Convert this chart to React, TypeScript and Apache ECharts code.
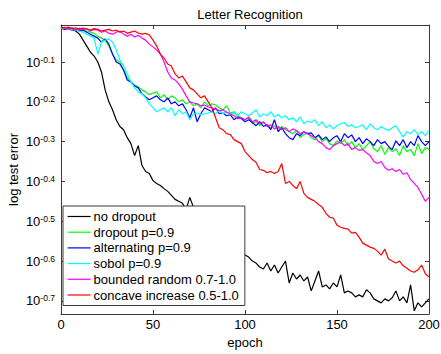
import React, { useEffect, useRef } from "react";
import * as echarts from "echarts";

// epochs sampled every 2 epochs (0..200)
const epochs: number[] = Array.from({ length: 101 }, (_, i) => i * 2);

// log10(test error)
const noDropout = [
  -0.012, -0.014, -0.013, -0.018, -0.022, -0.03, -0.045, -0.06, -0.075, -0.085,
  -0.1, -0.125, -0.17, -0.2, -0.22, -0.245, -0.262, -0.27, -0.29, -0.305,
  -0.335, -0.31, -0.36, -0.375, -0.38, -0.398, -0.405, -0.41, -0.418, -0.425,
  -0.435, -0.445, -0.45, -0.455, -0.47, -0.44, -0.465, -0.48, -0.49, -0.5,
  -0.505, -0.51, -0.52, -0.53, -0.535, -0.54, -0.55, -0.56, -0.565, -0.575,
  -0.585, -0.59, -0.6, -0.605, -0.615, -0.62, -0.605, -0.625, -0.61, -0.63,
  -0.615, -0.6, -0.655, -0.63, -0.645, -0.635, -0.65, -0.64, -0.675, -0.65,
  -0.625, -0.665, -0.66, -0.67, -0.655, -0.665, -0.635, -0.68, -0.675, -0.68,
  -0.69, -0.685, -0.69, -0.672, -0.68, -0.695, -0.7, -0.705, -0.695, -0.7,
  -0.692, -0.675, -0.7, -0.69, -0.705, -0.66, -0.725, -0.705, -0.715, -0.705,
  -0.695,
];
const dropout09 = [
  -0.015, -0.016, -0.014, -0.018, -0.017, -0.02, -0.019, -0.022, -0.025, -0.028,
  -0.035, -0.04, -0.045, -0.06, -0.08, -0.095, -0.1, -0.12, -0.14, -0.15,
  -0.158, -0.163, -0.17, -0.175, -0.182, -0.178, -0.175, -0.19, -0.182, -0.195,
  -0.185, -0.19, -0.2, -0.195, -0.205, -0.2, -0.21, -0.205, -0.215, -0.2,
  -0.21, -0.205, -0.208, -0.215, -0.22, -0.21, -0.228, -0.225, -0.235, -0.24,
  -0.245, -0.24, -0.255, -0.248, -0.26, -0.252, -0.258, -0.265, -0.26, -0.268,
  -0.262, -0.27, -0.275, -0.28, -0.272, -0.29, -0.282, -0.278, -0.29, -0.295,
  -0.285, -0.3, -0.292, -0.305, -0.31, -0.298, -0.305, -0.295, -0.31, -0.3,
  -0.315, -0.305, -0.32, -0.31, -0.3, -0.318, -0.325, -0.31, -0.332, -0.315,
  -0.325, -0.318, -0.335, -0.31, -0.325, -0.32, -0.335, -0.305, -0.33, -0.315,
  -0.32,
];
const alternating09 = [
  -0.015, -0.018, -0.016, -0.02, -0.018, -0.022, -0.02, -0.025, -0.03, -0.035,
  -0.04, -0.05, -0.042, -0.055, -0.08, -0.1, -0.105, -0.12, -0.145, -0.15,
  -0.16, -0.165, -0.18, -0.188, -0.195, -0.19, -0.185, -0.195, -0.2, -0.19,
  -0.205, -0.2, -0.21, -0.205, -0.22, -0.24, -0.215, -0.25, -0.23, -0.215,
  -0.22, -0.225, -0.215, -0.23, -0.228, -0.235, -0.232, -0.245, -0.238, -0.242,
  -0.25, -0.245, -0.252, -0.26, -0.25, -0.262, -0.258, -0.27, -0.245, -0.275,
  -0.265, -0.28, -0.29, -0.295, -0.28, -0.285, -0.275, -0.28, -0.278, -0.29,
  -0.283, -0.295, -0.288, -0.3, -0.29, -0.285, -0.3, -0.28, -0.29, -0.283,
  -0.3, -0.29, -0.305, -0.293, -0.3, -0.31, -0.295, -0.305, -0.3, -0.312,
  -0.32, -0.298, -0.31, -0.295, -0.315, -0.3, -0.31, -0.285, -0.3, -0.31,
  -0.3,
];
const sobol09 = [
  -0.014, -0.016, -0.015, -0.019, -0.02, -0.022, -0.025, -0.03, -0.035, -0.04,
  -0.08, -0.05, -0.045, -0.042, -0.05, -0.07, -0.095, -0.11, -0.13, -0.15,
  -0.165, -0.175, -0.18, -0.19, -0.205, -0.215, -0.225, -0.22, -0.215, -0.225,
  -0.215, -0.235, -0.22, -0.23, -0.225, -0.245, -0.23, -0.228, -0.232, -0.23,
  -0.228, -0.225, -0.23, -0.222, -0.23, -0.225, -0.232, -0.228, -0.235, -0.225,
  -0.23, -0.235, -0.228, -0.22, -0.238, -0.23, -0.235, -0.225, -0.238, -0.232,
  -0.24, -0.235, -0.245, -0.24, -0.25, -0.238, -0.255, -0.248, -0.252, -0.245,
  -0.26, -0.25, -0.265, -0.258, -0.268, -0.26, -0.255, -0.252, -0.262, -0.258,
  -0.265, -0.262, -0.258, -0.27, -0.255, -0.265, -0.27, -0.262, -0.268, -0.272,
  -0.265, -0.26, -0.275, -0.288, -0.275, -0.28, -0.27, -0.282, -0.275, -0.285,
  -0.272,
];
const boundedRandom = [
  -0.015, -0.013, -0.016, -0.014, -0.02, -0.015, -0.018, -0.016, -0.022, -0.018,
  -0.02, -0.025, -0.022, -0.028, -0.03, -0.025, -0.022, -0.03, -0.035, -0.03,
  -0.037, -0.033, -0.04, -0.045, -0.055, -0.062, -0.07, -0.08, -0.1, -0.125,
  -0.14, -0.145, -0.155, -0.168, -0.185, -0.2, -0.203, -0.205, -0.21, -0.208,
  -0.213, -0.215, -0.218, -0.222, -0.22, -0.226, -0.23, -0.235, -0.242, -0.24,
  -0.245, -0.238, -0.25, -0.245, -0.255, -0.25, -0.262, -0.258, -0.268, -0.262,
  -0.27, -0.265, -0.275, -0.268, -0.272, -0.28, -0.275, -0.28, -0.285, -0.29,
  -0.3, -0.305, -0.315, -0.32, -0.31, -0.305, -0.3, -0.31, -0.305, -0.32,
  -0.315, -0.322, -0.32, -0.328, -0.335, -0.35, -0.355, -0.35, -0.365, -0.372,
  -0.368, -0.375, -0.37, -0.382, -0.378, -0.395, -0.405, -0.415, -0.432, -0.45,
  -0.44,
];
const concaveIncrease = [
  -0.012, -0.015, -0.013, -0.016, -0.014, -0.018, -0.015, -0.017, -0.02, -0.016,
  -0.018, -0.022, -0.02, -0.018, -0.022, -0.02, -0.025, -0.022, -0.028, -0.025,
  -0.022, -0.027, -0.03, -0.028, -0.032, -0.045, -0.06, -0.08, -0.09, -0.105,
  -0.11, -0.13, -0.14, -0.135, -0.15, -0.165, -0.17, -0.18, -0.19, -0.185,
  -0.2, -0.215, -0.24, -0.265, -0.27, -0.28, -0.282, -0.295, -0.3, -0.305,
  -0.325, -0.335, -0.345, -0.352, -0.37, -0.372, -0.378, -0.375, -0.38, -0.375,
  -0.355, -0.405, -0.4, -0.41, -0.418, -0.4, -0.43, -0.44, -0.445, -0.45,
  -0.458, -0.465, -0.48, -0.49, -0.492, -0.51, -0.515, -0.518, -0.52, -0.53,
  -0.528, -0.54, -0.555, -0.56, -0.565, -0.568, -0.575, -0.585, -0.57, -0.595,
  -0.6, -0.605, -0.6, -0.612, -0.618, -0.625, -0.628, -0.622, -0.61, -0.632,
  -0.64,
];

const seriesNames = [
  "no dropout",
  "dropout p=0.9",
  "alternating p=0.9",
  "sobol p=0.9",
  "bounded random 0.7-1.0",
  "concave increase 0.5-1.0",
];
const seriesValues = [noDropout, dropout09, alternating09, sobol09, boundedRandom, concaveIncrease];
const seriesColors = ["#000000", "#00ff00", "#0000ff", "#00ffff", "#ff00ff", "#ff0000"];

const xTicks = [0, 50, 100, 150, 200];
const yTicks = [-0.7, -0.6, -0.5, -0.4, -0.3, -0.2, -0.1];

const FONT = "Liberation Sans, Arial, sans-serif";
const AXIS_COLOR = "#3a3a3a";

export default function App() {
  const ref = useRef<HTMLDivElement>(null);
  useEffect(() => {
    if (!ref.current) return;
    const chart = echarts.init(ref.current, undefined, { renderer: "svg" });
    const grid = { left: 61, right: 12, top: 25, bottom: 40, outerBoundsMode: "none", containLabel: false };
    const yMin = -0.733;
    const yMax = -0.007;
    chart.setOption({
      animation: false,
      backgroundColor: "#ffffff",
      textStyle: { fontFamily: FONT },
      title: {
        text: "Letter Recognition",
        left: 245,
        textAlign: "center",
        top: 3,
        textStyle: { fontSize: 13, fontWeight: "normal", color: "#000", fontFamily: FONT },
      },
      grid,
      legend: {
        orient: "vertical",
        left: 63,
        top: 206,
        padding: [4, 6, 4, 4],
        itemWidth: 23,
        itemHeight: 14,
        itemGap: 2.7,
        backgroundColor: "#ffffff",
        borderColor: AXIS_COLOR,
        borderWidth: 1,
        borderRadius: 0,
        itemStyle: { opacity: 0 },
        lineStyle: { width: 1.2 },
        textStyle: { fontSize: 13, color: "#000", fontFamily: FONT, padding: [0, 0, 0, -2] },
        data: seriesNames,
      },
      xAxis: [
        {
          type: "value",
          min: 0,
          max: 200,
          interval: 50,
          name: "epoch",
          nameLocation: "middle",
          nameGap: 18,
          nameMoveOverlap: true,
          nameTextStyle: { fontSize: 13, color: "#000", fontFamily: FONT },
          axisLine: { show: true, onZero: false, lineStyle: { color: AXIS_COLOR, width: 1 } },
          axisTick: { show: true, inside: true, length: 4, lineStyle: { color: AXIS_COLOR } },
          axisLabel: {
            color: "#000",
            fontSize: 13,
            margin: 4,
            fontFamily: FONT,
            customValues: xTicks,
          },
          splitLine: { show: false },
        },
        {
          type: "value",
          position: "top",
          min: 0,
          max: 200,
          interval: 50,
          axisLine: { show: true, onZero: false, lineStyle: { color: AXIS_COLOR, width: 1 } },
          axisTick: { show: true, inside: true, length: 4, lineStyle: { color: AXIS_COLOR } },
          axisLabel: { show: false },
          splitLine: { show: false },
        },
      ],
      yAxis: [
        {
          type: "value",
          min: yMin,
          max: yMax,
          name: "log test error",
          nameLocation: "middle",
          nameGap: 41,
          nameMoveOverlap: false,
          nameTextStyle: { fontSize: 13, color: "#000", fontFamily: FONT },
          axisLine: { show: true, onZero: false, lineStyle: { color: AXIS_COLOR, width: 1 } },
          axisTick: {
            show: true,
            inside: true,
            length: 4,
            lineStyle: { color: AXIS_COLOR },
            customValues: yTicks,
          },
          axisLabel: {
            margin: 6,
            customValues: yTicks,
            formatter: (v: number) => `{b|10}{s|${v.toFixed(1)}}`,
            rich: {
              b: { fontSize: 13, color: "#000", fontFamily: FONT, lineHeight: 14 },
              s: {
                fontSize: 8.5,
                color: "#000",
                fontFamily: FONT,
                verticalAlign: "top",
                lineHeight: 14,
                padding: [0, 0, 6, 0],
              },
            },
          },
          splitLine: { show: false },
        },
        {
          type: "value",
          position: "right",
          min: yMin,
          max: yMax,
          axisLine: { show: true, onZero: false, lineStyle: { color: AXIS_COLOR, width: 1 } },
          axisTick: {
            show: true,
            inside: true,
            length: 4,
            lineStyle: { color: AXIS_COLOR },
            customValues: yTicks,
          },
          axisLabel: { show: false },
          splitLine: { show: false },
        },
      ],
      series: seriesNames.map((name, k) => ({
        name,
        type: "line",
        xAxisIndex: 0,
        yAxisIndex: 0,
        symbol: "none",
        showSymbol: false,
        clip: true,
        color: seriesColors[k],
        lineStyle: { color: seriesColors[k], width: 1.2 },
        data: epochs.map((e, i) => [e, seriesValues[k][i]]),
      })),
    });
    return () => chart.dispose();
  }, []);
  return (
    <div
      ref={ref}
      style={{ position: "absolute", left: 0, top: 0, width: 441, height: 354 }}
    />
  );
}
